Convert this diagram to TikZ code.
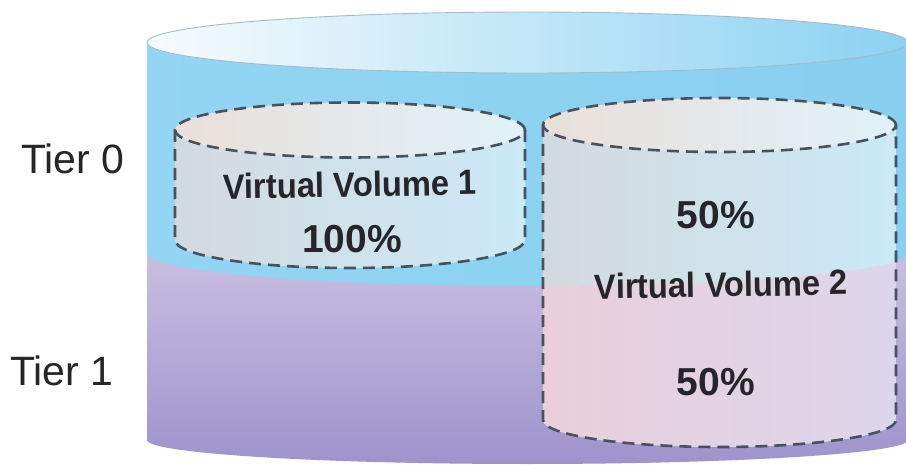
\documentclass[tikz,border=0pt]{standalone}
\usepackage{fontspec}
\setmainfont{Liberation Sans}

\definecolor{tierblue}{HTML}{88CFF0}
\definecolor{tierbluelt}{HTML}{93D5F3}
\definecolor{tierpurptop}{HTML}{C9BFE1}
\definecolor{tierpurpbot}{HTML}{9E93CC}
\definecolor{capleft}{HTML}{F6FBFD}
\definecolor{capright}{HTML}{8CD2F2}
\definecolor{caprim}{HTML}{A3BCC9}
\definecolor{volleft}{HTML}{D3DADE}
\definecolor{volright}{HTML}{CBE9F7}
\definecolor{volpinkleft}{HTML}{EACFD9}
\definecolor{volpinkright}{HTML}{DCD6EC}
\definecolor{lidleft}{HTML}{E9DFDA}
\definecolor{lidright}{HTML}{E1F2FA}
\definecolor{dashgrey}{HTML}{46525E}
\definecolor{ink}{HTML}{262529}

\tikzset{
  voledge/.style={draw=dashgrey, line width=2.6pt, dash pattern=on 12pt off 7pt},
  tierlabel/.style={inner sep=0pt, text=ink, font={\fontsize{41}{49}\selectfont}},
  vollabel/.style={inner sep=0pt, text=ink, xscale=0.935, rotate=1,
    font={\fontsize{35}{42}\selectfont\bfseries}},
  pctlabel/.style={inner sep=0pt, text=ink, font={\fontsize{39}{47}\selectfont\bfseries}},
}

\begin{document}
\begin{tikzpicture}[x=1pt,y=1pt]
  \useasboundingbox (0,0) rectangle (906,467);
  \fill[white] (0,0) rectangle (906,467);
  \clip (0,0) rectangle (906,467);

  % ---- storage pool: tier 1 (lower band)
  \shade[top color=tierpurptop, bottom color=tierpurpbot]
    (147,214) -- (147,27)
    arc[start angle=180, end angle=360, x radius=380.5, y radius=24]
    -- (908,214) -- cycle;

  % ---- storage pool: tier 0 (upper band)
  \shade[left color=tierbluelt, right color=tierblue]
    (147,424.5) -- (147,214)
    arc[start angle=180, end angle=360, x radius=380.5, y radius=33]
    -- (908,424.5) -- cycle;

  % ---- pool lid
  \shadedraw[left color=capleft, right color=capright, draw=caprim, line width=0.9pt]
    (527.5,424.5) ellipse[x radius=380.5, y radius=30.5];

  % ---- virtual volume 1 (entirely in tier 0)
  \shade[left color=volleft, right color=volright]
    (175,337) -- (175,227)
    arc[start angle=180, end angle=360, x radius=175, y radius=28]
    -- (525,337) -- cycle;
  \shade[left color=lidleft, right color=lidright]
    (350,337) ellipse[x radius=175, y radius=27.5];
  \draw[voledge] (350,337) ellipse[x radius=175, y radius=27.5];
  \draw[voledge] (175,337) -- (175,227)
    arc[start angle=180, end angle=360, x radius=175, y radius=28]
    -- (525,337);

  % ---- virtual volume 2 (split across both tiers)
  \shade[left color=volleft, right color=volright]
    (543,342) -- (543,47)
    arc[start angle=180, end angle=360, x radius=176.5, y radius=27]
    -- (896,342) -- cycle;
  \begin{scope}
    \clip (147,214)
      arc[start angle=180, end angle=360, x radius=380.5, y radius=33]
      -- (908,0) -- (147,0) -- cycle;
    \shade[left color=volpinkleft, right color=volpinkright]
      (543,342) -- (543,47)
      arc[start angle=180, end angle=360, x radius=176.5, y radius=27]
      -- (896,342) -- cycle;
  \end{scope}
  \shade[left color=lidleft, right color=lidright]
    (719.5,342) ellipse[x radius=176.5, y radius=27];
  \draw[voledge] (719.5,342) ellipse[x radius=176.5, y radius=27];
  \draw[voledge] (543,342) -- (543,47)
    arc[start angle=180, end angle=360, x radius=176.5, y radius=27]
    -- (896,342);

  % ---- labels
  \node[tierlabel, anchor=base west] (tier0) at (21,294) {Tier 0};
  \node[tierlabel, anchor=base west] (tier1) at (10,82) {Tier 1};

  \node[vollabel, anchor=base] (vv1) at (350,270) {Virtual Volume 1};
  \node[pctlabel, anchor=base] (vv1pct) at (352,215) {100\%};

  \node[pctlabel, anchor=base] (vv2top) at (716,239) {50\%};
  \node[vollabel, anchor=base] (vv2) at (721.5,170) {Virtual Volume 2};
  \node[pctlabel, anchor=base] (vv2bot) at (716,72) {50\%};
\end{tikzpicture}
\end{document}
